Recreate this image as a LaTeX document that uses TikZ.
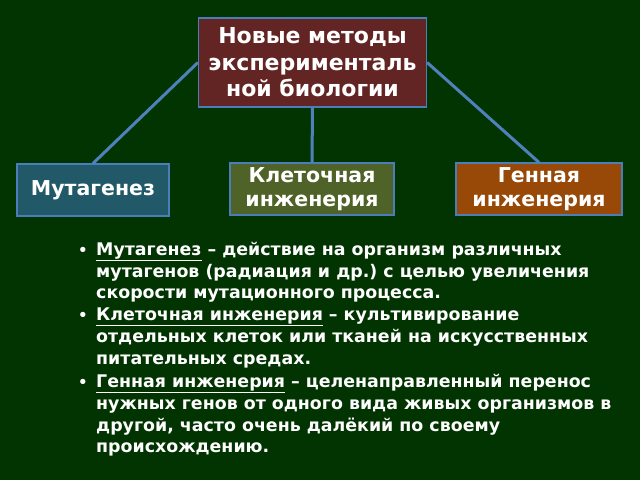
\documentclass[tikz,border=0pt]{standalone}
\usepackage{fontspec}
\setmainfont{DejaVu Sans}
\frenchspacing
\definecolor{bg}{RGB}{2,52,2}
\definecolor{topc}{RGB}{99,37,35}
\definecolor{mutc}{RGB}{33,89,104}
\definecolor{klc}{RGB}{79,98,40}
\definecolor{genc}{RGB}{152,72,7}
\definecolor{edge}{RGB}{74,126,187}
\definecolor{link}{RGB}{79,129,189}
\tikzset{
  box/.style={draw=edge, line width=1.2pt, text=white, align=center, inner sep=0pt, font=\bfseries},
  smallbox/.style={box, minimum height=52pt, font=\fontsize{20.5}{24}\selectfont\bfseries},
  conn/.style={draw=link, line width=3pt},
  ln/.style={anchor=base west, inner sep=0pt, text=white, font=\fontsize{17.4}{21}\selectfont\bfseries\frenchspacing},
  bul/.style={anchor=base west, inner sep=0pt, text=white, font=\fontsize{15}{21}\selectfont\bfseries}
}
\begin{document}
\begin{tikzpicture}[x=1pt,y=-1pt]
\fill[bg] (0,0) rectangle (640,480);
\node[box, fill=topc, minimum width=228pt, minimum height=89pt, font=\fontsize{22}{26.5}\selectfont\bfseries] (top) at (312.5,62.5) {Новые методы\\эксперименталь\\ной биологии};
\node[smallbox, fill=mutc, minimum width=152pt] (mut) at (93,190) {Мутагенез};
\node[smallbox, fill=klc, minimum width=164pt] (kl) at (312,189) {Клеточная\\инженерия};
\node[smallbox, fill=genc, minimum width=166pt] (gen) at (539,189) {Генная\\инженерия};
\draw[conn] (top.west) -- (mut.north);
\draw[conn] (top.south) -- (kl.north);
\draw[conn] (top.east) -- (gen.north);
% bullets
\node[bul] (b1) at (78,255) {•};
\node[bul] (b2) at (78,320) {•};
\node[bul] (b3) at (78,387) {•};
\node[ln] (l1) at (96,255.5) {\underline{Мутагенез} – действие на организм различных};
\node[ln] (l2) at (96,277) {мутагенов (радиация и др.) с целью увеличения};
\node[ln] (l3) at (96,298) {скорости мутационного процесса.};
\node[ln] (l4) at (96,320) {\underline{Клеточная инженерия} – культивирование};
\node[ln] (l5) at (96,342) {отдельных клеток или тканей на искусственных};
\node[ln] (l6) at (96,364) {питательных средах.};
\node[ln] (l7) at (96,387) {\underline{Генная инженерия} – целенаправленный перенос};
\node[ln] (l8) at (96,409) {нужных генов от одного вида живых организмов в};
\node[ln] (l9) at (96,431) {другой, часто очень далёкий по своему};
\node[ln] (l10) at (96,452) {происхождению.};
\end{tikzpicture}
\end{document}
